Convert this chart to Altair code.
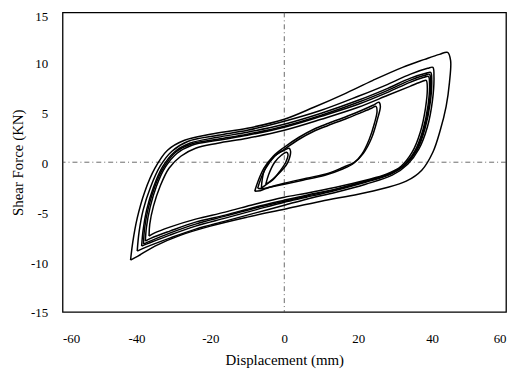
import altair as alt
import pandas as pd

# ---- hysteresis loops (displacement mm, shear force kN) ----
outer_x = [-41.6, -41.0, -39.8, -37.8, -35.0, -31.6, -27.0, -20.0, -10.0, 0.0, 8.0, 16.0, 24.0, 32.0, 38.0, 42.0, 44.2,
           45.0, 44.7, 43.8, 42.2, 40.2, 37.2, 33.0, 27.0, 20.0, 10.0, 0.0, -10.0, -20.0, -28.0, -35.0, -39.6, -41.6]
outer_y = [-9.8, -8.0, -5.6, -3.0, -0.6, 1.2, 2.2, 2.8, 3.4, 4.3, 5.5, 6.8, 8.2, 9.5, 10.3, 10.8, 11.0,
           10.2, 8.0, 5.6, 3.2, 1.0, -0.8, -1.9, -2.6, -3.2, -3.9, -4.7, -5.5, -6.4, -7.3, -8.4, -9.4, -9.8]

b1_x = [-36.6, -36.4, -35.4, -33.6, -31.2, -28.0, -24.0, -18.0, -10.0, 0.0, 10.0, 20.0, 28.0, 34.0, 37.4, 38.4,
        38.7, 38.2, 36.8, 34.6, 31.6, 27.6, 22.0, 14.0, 6.0, 0.0, -8.0, -16.0, -24.0, -31.0, -35.2, -36.6]
b1_y = [-7.4, -6.2, -4.4, -2.4, -0.6, 0.6, 1.4, 1.9, 2.4, 3.2, 4.3, 5.5, 6.7, 7.6, 8.1, 8.2,
        7.4, 5.4, 3.0, 1.0, -0.4, -1.2, -1.8, -2.5, -3.1, -3.5, -4.2, -5.0, -5.7, -6.5, -7.1, -7.4]

b2_x = [-37.6, -37.3, -36.3, -34.6, -32.2, -29.0, -25.0, -18.0, -10.0, 0.0, 10.0, 20.0, 28.0, 34.0, 37.8, 39.0,
        39.3, 38.9, 37.5, 35.3, 32.3, 28.2, 22.0, 14.0, 6.0, 0.0, -8.0, -16.0, -24.0, -31.0, -36.0, -37.6]
b2_y = [-7.9, -6.5, -4.5, -2.4, -0.5, 0.9, 1.7, 2.2, 2.7, 3.5, 4.6, 5.8, 7.0, 8.0, 8.5, 8.6,
        7.8, 5.7, 3.2, 1.1, -0.3, -1.2, -1.9, -2.7, -3.3, -3.8, -4.5, -5.3, -6.0, -6.9, -7.6, -7.9]

b3_x = [-38.6, -38.2, -37.2, -35.4, -33.0, -29.8, -25.6, -18.0, -10.0, 0.0, 10.0, 20.0, 28.0, 34.0, 38.3, 39.6,
        39.9, 39.5, 38.1, 35.9, 32.9, 28.8, 22.0, 14.0, 6.0, 0.0, -8.0, -16.0, -24.0, -31.0, -36.6, -38.6]
b3_y = [-8.4, -6.8, -4.7, -2.5, -0.5, 1.0, 1.9, 2.5, 3.0, 3.8, 4.9, 6.2, 7.4, 8.4, 8.9, 9.0,
        8.2, 6.0, 3.4, 1.2, -0.2, -1.2, -2.0, -2.8, -3.5, -4.0, -4.8, -5.6, -6.4, -7.3, -8.1, -8.4]

b4_x = [-39.8, -39.3, -38.2, -36.2, -33.6, -30.4, -26.0, -18.0, -10.0, 0.0, 10.0, 20.0, 28.0, 34.0, 38.8, 40.2,
        40.5, 40.1, 38.7, 36.4, 33.4, 29.2, 22.0, 14.0, 6.0, 0.0, -8.0, -16.0, -24.0, -31.0, -37.4, -39.8]
b4_y = [-8.9, -7.0, -4.8, -2.5, -0.4, 1.1, 2.1, 2.7, 3.2, 4.1, 5.2, 6.6, 7.8, 8.8, 9.4, 9.5,
        8.6, 6.2, 3.5, 1.3, -0.2, -1.3, -2.2, -3.0, -3.7, -4.3, -5.1, -5.9, -6.7, -7.6, -8.5, -8.9]

b5_x = [-38.1, -37.8, -36.8, -35.0, -32.6, -29.4, -25.3, -18.0, -10.0, 0.0, 10.0, 20.0, 28.0, 34.0, 38.0, 39.3,
        39.6, 39.2, 37.8, 35.6, 32.6, 28.5, 22.0, 14.0, 6.0, 0.0, -8.0, -16.0, -24.0, -31.0, -36.3, -38.1]
b5_y = [-8.2, -6.6, -4.6, -2.4, -0.5, 1.0, 1.8, 2.3, 2.8, 3.6, 4.7, 6.0, 7.2, 8.2, 8.7, 8.8,
        8.0, 5.8, 3.3, 1.1, -0.3, -1.2, -1.9, -2.7, -3.4, -3.9, -4.6, -5.4, -6.2, -7.1, -7.9, -8.2]

m1_x = [-8.0, -7.2, -5.5, -3.0, 0.0, 4.0, 8.0, 12.0, 17.0, 21.0, 24.0, 25.6,
        26.0, 25.2, 23.6, 21.4, 19.0, 16.0, 12.0, 6.0, 0.0, -4.0, -6.5, -8.0]
m1_y = [-2.9, -2.0, -0.6, 0.6, 1.5, 2.5, 3.3, 3.9, 4.6, 5.2, 5.7, 6.0,
        5.6, 4.3, 2.4, 0.9, 0.0, -0.5, -1.1, -1.6, -2.1, -2.5, -2.85, -2.9]

m2_x = [-7.2, -6.5, -5.0, -2.6, 0.0, 4.0, 8.0, 12.0, 17.0, 21.0, 23.6, 24.8,
        25.1, 24.4, 23.0, 21.0, 18.8, 15.6, 11.0, 5.0, 0.0, -4.0, -6.0, -7.2]
m2_y = [-2.6, -1.8, -0.6, 0.6, 1.3, 2.3, 3.1, 3.7, 4.4, 5.0, 5.4, 5.6,
        5.1, 3.9, 2.3, 0.8, -0.1, -0.7, -1.3, -1.8, -2.2, -2.5, -2.65, -2.6]

s1_x = [-6.2, -6.0, -5.4, -3.5, -1.6, 0.0, 1.3, 1.7, 1.3, 0.5, -1.7, -4.4, -6.2]
s1_y = [-2.6, -1.8, -0.8, 0.3, 0.9, 1.2, 1.4, 1.1, 0.3, -0.3, -1.2, -2.1, -2.6]

s2_x = [-5.0, -4.2, -2.6, -0.8, 0.6, 1.0, 0.4, -1.2, -3.2, -5.0]
s2_y = [-2.2, -1.2, 0.0, 0.7, 1.0, 0.8, 0.0, -0.9, -1.8, -2.2]

x_ticks = [-60, -40, -20, 0, 20, 40, 60]
y_ticks = [-15, -10, -5, 0, 5, 10, 15]

loops = {
    "outer": (outer_x, outer_y), "b1": (b1_x, b1_y), "b2": (b2_x, b2_y),
    "b3": (b3_x, b3_y), "b4": (b4_x, b4_y), "b5": (b5_x, b5_y),
    "m1": (m1_x, m1_y), "m2": (m2_x, m2_y), "s1": (s1_x, s1_y), "s2": (s2_x, s2_y),
}
rows = []
for name, (xs, ys) in loops.items():
    for i, (xv, yv) in enumerate(zip(xs, ys)):
        rows.append({"loop": name, "i": i, "d": xv, "f": yv})
df = pd.DataFrame(rows)

FONT = "Liberation Serif"

xscale = alt.Scale(domain=[-60, 60], nice=False, zero=False)
yscale = alt.Scale(domain=[-15, 15], nice=False, zero=False)

lines = alt.Chart(df).mark_line(
    interpolate="catmull-rom", color="black", strokeWidth=1.5
).encode(
    x=alt.X("d:Q", scale=xscale, title="Displacement (mm)",
            axis=alt.Axis(values=x_ticks, labelExpr="'' + datum.value", grid=False,
                          ticks=False, domain=False, labelPadding=21, titlePadding=7)),
    y=alt.Y("f:Q", scale=yscale, title="Shear Force (KN)",
            axis=alt.Axis(values=y_ticks, labelExpr="'' + datum.value", grid=False,
                          ticks=False, domain=False, labelPadding=15, titlePadding=5,
                          labelOffset={"condition": {"test": "datum.value == 15", "value": 4}, "value": 1})),
    detail="loop:N",
    order="i:Q",
)

zero = pd.DataFrame({"v": [0]})
vrule = alt.Chart(zero).mark_rule(color="#444", strokeWidth=0.8, strokeDash=[5, 3, 1, 3]).encode(x=alt.X("v:Q", scale=xscale))
hrule = alt.Chart(zero).mark_rule(color="#444", strokeWidth=0.8, strokeDash=[5, 3, 1, 3]).encode(y=alt.Y("v:Q", scale=yscale))

chart = alt.layer(vrule, hrule, lines).properties(
    width=447, height=302,
    padding={"left": 55, "top": 3, "right": 2, "bottom": 58},
    autosize=alt.AutoSizeParams(type="none"),
    background="white",
).configure_view(
    stroke="black", strokeWidth=1.3
).configure_axis(
    labelFont=FONT, titleFont=FONT, labelFontSize=13, titleFontSize=15,
    titleFontWeight="normal", labelColor="black", titleColor="black",
)

chart.save("out.html", embed_options={"renderer": "svg", "actions": False})
